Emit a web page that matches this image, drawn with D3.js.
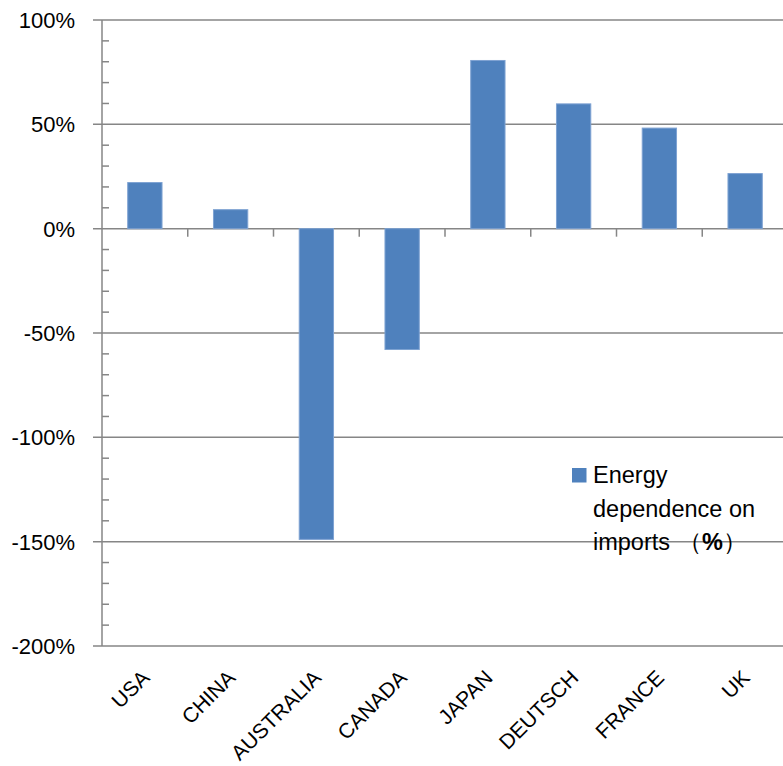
<!DOCTYPE html>
<html>
<head>
<meta charset="utf-8">
<script src="https://cdn.jsdelivr.net/npm/d3@7"></script>
<style>
    body { margin: 0; background: #fff; }
    svg { display: block; font-family: "Liberation Sans", Arial, sans-serif; }
</style>
</head>
<body>
<div id="chart"></div>
<script>
let countries = ["USA", "CHINA", "AUSTRALIA", "CANADA", "JAPAN", "DEUTSCH", "FRANCE", "UK"];
let dependence = [22.1, 9.1, -148.9, -57.9, 80.6, 59.8, 48.2, 26.4];
let majorTicks = [100, 50, 0, -50, -100, -150, -200];
let minorTicks = d3.range(-190, 100, 10).filter(function (v) { return v % 50 !== 0; });
let seriesName = "Energy dependence on imports";

let w = 783, h = 766;
let plotLeft = 102, plotRight = 788, plotTop = 20, plotBottom = 646;
let gray = "#868686";

let svg = d3.select("#chart")
    .append("svg")
    .attr("width", w)
    .attr("height", h);

let xScale = d3.scaleBand()
    .domain(countries)
    .range([plotLeft, plotRight])
    .paddingInner(0.6)
    .paddingOuter(0.3);

let yScale = d3.scaleLinear()
    .domain([-200, 100])
    .range([plotBottom, plotTop]);

// horizontal gridlines
svg.selectAll("line.grid")
    .data(majorTicks)
    .enter()
    .append("line")
    .attr("class", "grid")
    .attr("x1", plotLeft - 9)
    .attr("x2", plotRight)
    .attr("y1", function (d) { return yScale(d); })
    .attr("y2", function (d) { return yScale(d); })
    .style("stroke", gray)
    .style("stroke-width", "1.5px");

// y axis with minor ticks on the right side
svg.append("line")
    .attr("x1", plotLeft).attr("x2", plotLeft)
    .attr("y1", yScale(100)).attr("y2", yScale(-200))
    .style("stroke", gray)
    .style("stroke-width", "1.5px");

svg.selectAll("line.minor")
    .data(minorTicks)
    .enter()
    .append("line")
    .attr("class", "minor")
    .attr("x1", plotLeft)
    .attr("x2", plotLeft + 7)
    .attr("y1", function (d) { return yScale(d); })
    .attr("y2", function (d) { return yScale(d); })
    .style("stroke", gray)
    .style("stroke-width", "1.5px");

svg.selectAll("text.ylab")
    .data(majorTicks)
    .enter()
    .append("text")
    .attr("class", "ylab")
    .attr("x", 75)
    .attr("y", function (d) { return yScale(d); })
    .attr("dy", "0.36em")
    .style("text-anchor", "end")
    .style("font-size", "22px")
    .text(function (d) { return d + "%"; });

// category separators on the zero line
svg.selectAll("line.xtick")
    .data(countries.slice(1))
    .enter()
    .append("line")
    .attr("class", "xtick")
    .attr("x1", function (d) { return xScale(d) - xScale.step() * 0.3; })
    .attr("x2", function (d) { return xScale(d) - xScale.step() * 0.3; })
    .attr("y1", yScale(0))
    .attr("y2", yScale(0) + 8)
    .style("stroke", gray)
    .style("stroke-width", "1.5px");

svg.selectAll("rect.bar")
    .data(dependence)
    .enter()
    .append("rect")
    .attr("class", "bar")
    .attr("x", function (d, i) { return xScale(countries[i]); })
    .attr("width", xScale.bandwidth())
    .attr("y", function (d) { return yScale(Math.max(0, d)); })
    .attr("height", function (d) { return Math.abs(yScale(d) - yScale(0)); })
    .attr("fill", "#4f81bd")
    .style("stroke", "#7ea2d2")
    .style("stroke-width", "1px");

svg.selectAll("text.xlab")
    .data(countries)
    .enter()
    .append("text")
    .attr("class", "xlab")
    .attr("transform", function (d) {
        return "translate(" + (xScale(d) + xScale.bandwidth() / 2 + 6) + ", 679) rotate(-45)";
    })
    .style("text-anchor", "end")
    .style("font-size", "21px")
    .text(function (d) { return d; });

// legend
let legend = svg.append("g").attr("transform", "translate(572, 468)");
legend.append("rect")
    .attr("width", 14.5)
    .attr("height", 14.5)
    .attr("fill", "#4f81bd");

let words = seriesName.split(" ");
let legendLines = [words[0], words[1] + " " + words[2], words[3]];
let lt = legend.append("text")
    .attr("x", 21)
    .attr("y", 15)
    .style("font-size", "23.5px");
legendLines.forEach(function (line, i) {
    lt.append("tspan")
        .attr("x", 21)
        .attr("y", 15 + i * 33.5)
        .text(line);
});
lt.append("tspan").attr("dx", 8).text("\uFF08");
lt.append("tspan").style("font-weight", "bold").text("%");
lt.append("tspan").text("\uFF09");
</script>
</body>
</html>
